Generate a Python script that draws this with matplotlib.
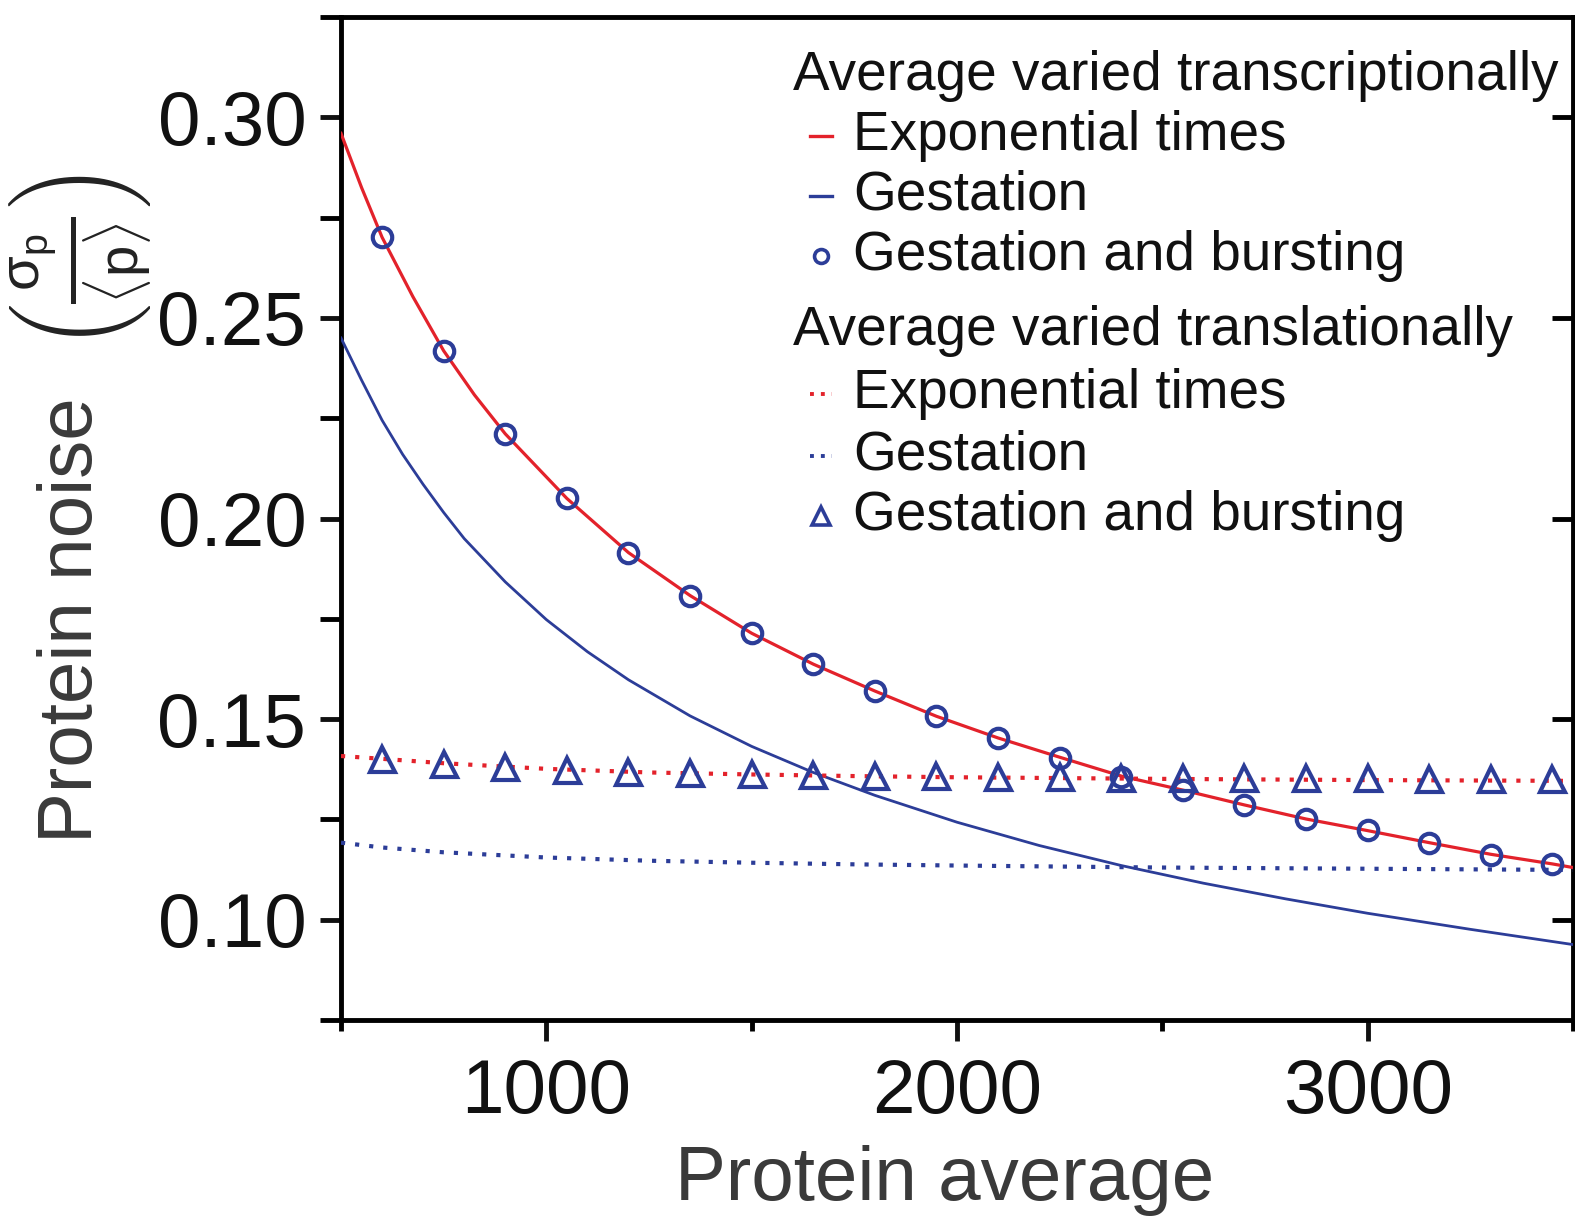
import numpy as np
import matplotlib.pyplot as plt
from matplotlib.ticker import MultipleLocator

plt.rcParams['font.family'] = ['Liberation Sans', 'DejaVu Sans']
plt.rcParams['mathtext.fontset'] = 'custom'
plt.rcParams['mathtext.rm'] = 'Liberation Sans'
plt.rcParams['mathtext.it'] = 'Liberation Sans'

# --- data ---
# average varied transcriptionally
curve_x = [500, 550, 600, 675, 750, 825, 900, 1050, 1200, 1350, 1500, 1650, 1800, 1950,
           2100, 2250, 2400, 2550, 2700, 2850, 3000, 3150, 3300, 3450, 3500]
trans_exp = [0.2960, 0.2825, 0.2701, 0.2553, 0.2418, 0.2308, 0.2211, 0.2050, 0.1915,
             0.1808, 0.1714, 0.1637, 0.1570, 0.1507, 0.1453, 0.1405, 0.1358,
             0.1323, 0.1286, 0.1251, 0.1222, 0.1192, 0.1163, 0.1139, 0.1130]

gest_x = [500, 550, 600, 650, 700, 750, 800, 900, 1000, 1100, 1200, 1350, 1500,
          1650, 1800, 2000, 2200, 2400, 2600, 2800, 3000, 3250, 3500]
trans_gest = [0.2450, 0.2345, 0.2245, 0.2160, 0.2085, 0.2015, 0.1950, 0.1842,
              0.1748, 0.1668, 0.1598, 0.1508, 0.1432, 0.1367, 0.1310, 0.1243,
              0.1185, 0.1135, 0.1091, 0.1052, 0.1016, 0.0976, 0.0938]

burst_x = [600, 750, 900, 1050, 1200, 1350, 1500, 1650, 1800, 1950,
           2100, 2250, 2400, 2550, 2700, 2850, 3000, 3150, 3300, 3450]
trans_burst = [0.2701, 0.2418, 0.2211, 0.2050, 0.1915, 0.1808, 0.1714, 0.1637,
               0.1570, 0.1507, 0.1453, 0.1403, 0.1356, 0.1323, 0.1286, 0.1251,
               0.1224, 0.1192, 0.1162, 0.1139]

# average varied translationally
flat_x = [500, 600, 750, 1000, 1250, 1500, 1750, 2000, 2500, 3000, 3500]
transl_exp = [0.1408, 0.1401, 0.1390, 0.1376, 0.1367, 0.1362, 0.1358, 0.1355,
              0.1351, 0.1348, 0.1346]
transl_gest = [0.1192, 0.1180, 0.1168, 0.1155, 0.1147, 0.1142, 0.1138, 0.1135,
               0.1130, 0.1127, 0.1124]
transl_burst = [0.1401, 0.1388, 0.1380, 0.1373, 0.1368, 0.1366, 0.1363, 0.1360,
                0.1358, 0.1357, 0.1356, 0.1355, 0.1354, 0.1353, 0.1352, 0.1352,
                0.1352, 0.1351, 0.1351, 0.1350]

RED = '#e3222b'
BLUE = '#2c3d98'
DOT = (0, (1, 2.4))

fig = plt.figure(figsize=(15.75, 12.22), dpi=100)
ax = fig.add_axes([341/1575, 1 - 1020/1222, 1232/1575, 1003/1222])

ax.plot(curve_x, trans_exp, color=RED, lw=2.3, zorder=3)
ax.plot(gest_x, trans_gest, color=BLUE, lw=2.0, zorder=3)
ax.plot(burst_x, trans_burst, ls='none', marker='o', ms=14, mfc='none',
        mec=BLUE, mew=3.0, zorder=4)
ax.plot(flat_x, transl_exp, color=RED, lw=3.0, ls=DOT, zorder=3)
ax.plot(flat_x, transl_gest, color=BLUE, lw=3.0, ls=DOT, zorder=3)
ax.plot(burst_x, transl_burst, ls='none', marker='^', ms=18, mfc='none',
        mec=BLUE, mew=3.0, zorder=4)

ax.set_xlim(500, 3500)
ax.set_ylim(0.075, 0.325)
ax.xaxis.set_minor_locator(MultipleLocator(500))
ax.yaxis.set_minor_locator(MultipleLocator(0.025))
ax.set_xticks([1000, 2000, 3000])
ax.set_xticklabels(['1000', '2000', '3000'])
ax.set_yticks([0.10, 0.15, 0.20, 0.25, 0.30])
ax.set_yticklabels(['0.10', '0.15', '0.20', '0.25', '0.30'])

for s in ax.spines.values():
    s.set_linewidth(3.5)
ax.tick_params(axis='both', which='major', direction='out', length=15, width=3.5,
               labelsize=55, colors='#111111', pad=10)
ax.tick_params(axis='x', which='major', pad=12)
ax.tick_params(axis='x', which='minor', direction='out', length=8, width=3.5)
ax.tick_params(axis='y', which='minor', direction='out', length=15, width=3.5)

# inward ticks on the right spine
axr = ax.twinx()
axr.set_ylim(ax.get_ylim())
axr.set_yticks([0.10, 0.15, 0.20, 0.25, 0.30])
axr.tick_params(axis='y', direction='in', length=15, width=3.5, labelright=False)
axr.yaxis.set_minor_locator(plt.NullLocator())
for s in axr.spines.values():
    s.set_visible(False)

# legend drawn by hand
def ax_xy(px, py):
    return (px - 341) / 1232, (1020 - py) / 1003

rows = [
    ('head', 'Average varied transcriptionally', 76, None),
    ('line', 'Exponential times', 136, dict(color=RED, lw=2.4)),
    ('line', 'Gestation', 196, dict(color=BLUE, lw=2.4)),
    ('mark', 'Gestation and bursting', 256, dict(marker='o', ms=10, mfc='none', mec=BLUE, mew=2.6)),
    ('head', 'Average varied translationally', 331, None),
    ('line', 'Exponential times', 394, dict(color=RED, lw=2.8, ls=(0, (1, 1.8)))),
    ('line', 'Gestation', 456, dict(color=BLUE, lw=2.8, ls=(0, (1, 1.8)))),
    ('mark', 'Gestation and bursting', 516, dict(marker='^', ms=13, mfc='none', mec=BLUE, mew=2.6)),
]
for kind, label, py, style in rows:
    if kind == 'head':
        x0, y0 = ax_xy(793, py)
        ax.text(x0, y0, label, transform=ax.transAxes, fontsize=39.5,
                color='#111111', va='center', ha='left')
        continue
    xa, y0 = ax_xy(810, py)
    xb, _ = ax_xy(832, py)
    xc, _ = ax_xy(821, py)
    if kind == 'line':
        ax.plot([xa, xb], [y0, y0], transform=ax.transAxes, clip_on=False, **style)
    else:
        ax.plot([xc], [y0], transform=ax.transAxes, clip_on=False, ls='none', **style)
    xt, _ = ax_xy(853, py)
    ax.text(xt, y0, label, transform=ax.transAxes, fontsize=39.5,
            color='#111111', va='center', ha='left')

fig.text(945/1575, 1 - 1180/1222, 'Protein average', fontsize=55,
         color='#3a3a3a', ha='center', va='center')
fig.text(73/1575, 1 - 620/1222, 'Protein noise', fontsize=55, rotation=90,
         color='#3a3a3a', ha='center', va='center')
fig.text(80/1575, 1 - 262/1222, r'$\left(\frac{\sigma_\mathrm{p}}{\langle\mathrm{p}\rangle}\right)$',
         fontsize=58, rotation=90, color='#222222', ha='center', va='center')

fig.savefig('out.png', dpi=100)
